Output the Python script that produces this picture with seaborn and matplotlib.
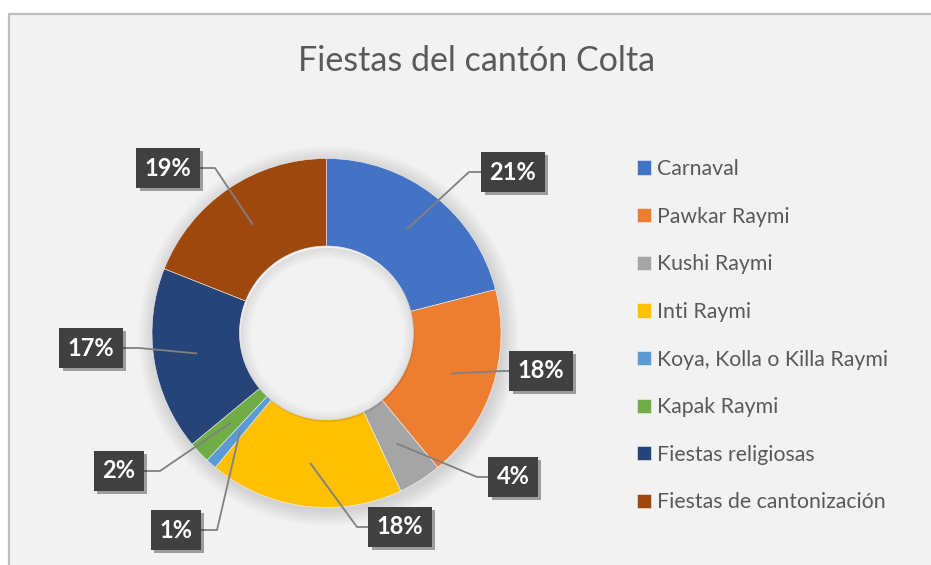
import matplotlib
matplotlib.use("Agg")
import matplotlib.pyplot as plt
import seaborn as sns
import numpy as np
from matplotlib.patches import Rectangle, Circle, Wedge
from matplotlib import patheffects as pe

categories = ["Carnaval", "Pawkar Raymi", "Kushi Raymi", "Inti Raymi",
              "Koya, Kolla o Killa Raymi", "Kapak Raymi", "Fiestas religiosas",
              "Fiestas de cantonización"]
shares = [21, 18, 4, 18, 1, 2, 17, 19]
colors = ["#4472C4", "#ED7D31", "#A5A5A5", "#FFC000",
          "#5B9BD5", "#70AD47", "#264478", "#9E480E"]

sns.set_theme(style="white")
plt.rcParams["font.family"] = ["Lato", "DejaVu Sans"]

W, H = 931, 565
BG = "#f2f2f2"
fig = plt.figure(figsize=(W / 100, H / 100), dpi=100, facecolor="white")
ax = fig.add_axes([0, 0, 1, 1])


def py(y):
    return H - y


# chart area with its border
ax.add_patch(Rectangle((9, -20), W, py(14) + 20, facecolor=BG,
                       edgecolor="#bfbfbf", lw=1.6, zorder=0))

cx, cy = 326.5, py(333)
R, r_in = 174.5, 87

# soft drop shadow behind the ring
for k in range(16, 0, -1):
    ax.add_patch(Circle((cx + 2, cy - 3), R + k, facecolor="black",
                        alpha=0.006, lw=0, zorder=1))

palette = sns.color_palette(colors)
wedges, _ = ax.pie(shares, colors=palette, startangle=90, counterclock=False,
                   center=(cx, cy), radius=R,
                   wedgeprops=dict(width=R - r_in, linewidth=0.4,
                                   edgecolor=BG, zorder=2))

# hole of the ring with a light inner shading
ax.add_patch(Circle((cx, cy), r_in - 0.3, facecolor=BG, lw=0, zorder=2.5))
for k in range(1, 12):
    ax.add_patch(Wedge((cx + 1, cy - 2), r_in, 0, 360, width=k,
                       facecolor="black", alpha=0.007, lw=0, zorder=3))

ax.set_xlim(0, W)
ax.set_ylim(0, H)
ax.set_aspect("equal")
ax.axis("off")

# label layout: elbow of each leader line and centre of each value box
elbows = [(469, 172), (503, 371), (477, 477), (357, 527),
          (217, 530), (160, 471), (139, 348), (215, 168)]
boxes = [(513, 172), (541, 371), (513, 477), (400, 527),
         (176, 530), (119, 471), (91, 348), (168, 168)]

for w, v, (ex, ey), (bx, by) in zip(wedges, shares, elbows, boxes):
    th = np.deg2rad((w.theta1 + w.theta2) / 2)
    axp = cx + 0.75 * R * np.cos(th)
    ayp = cy + 0.75 * R * np.sin(th)
    ax.plot([axp, ex, bx], [ayp, py(ey), py(by)], color="#808080",
            lw=1.3, zorder=4, solid_capstyle="butt")
    t = ax.text(bx, py(by), f"{v}%", ha="center", va="center",
                fontsize=17, fontweight="bold", color="white", zorder=6,
                bbox=dict(boxstyle="square,pad=0.36", fc="#404040",
                          ec="none"))
    t.get_bbox_patch().set_path_effects(
        [pe.SimplePatchShadow(offset=(2.5, -2.5), shadow_rgbFace="black",
                              alpha=0.35), pe.Normal()])

ax.text(477, py(61), "Fiestas del cantón Colta", ha="center", va="center",
        fontsize=24.5, color="#595959")

leg = ax.legend(wedges, categories, loc="upper left",
                bbox_to_anchor=(637, py(159)), bbox_transform=ax.transData,
                frameon=False, fontsize=15.3, handlelength=0.66,
                handleheight=0.66, handletextpad=0.28, labelspacing=1.3,
                borderpad=0, borderaxespad=0, labelcolor="#595959")

fig.savefig("out.png", dpi=100, facecolor="white")
